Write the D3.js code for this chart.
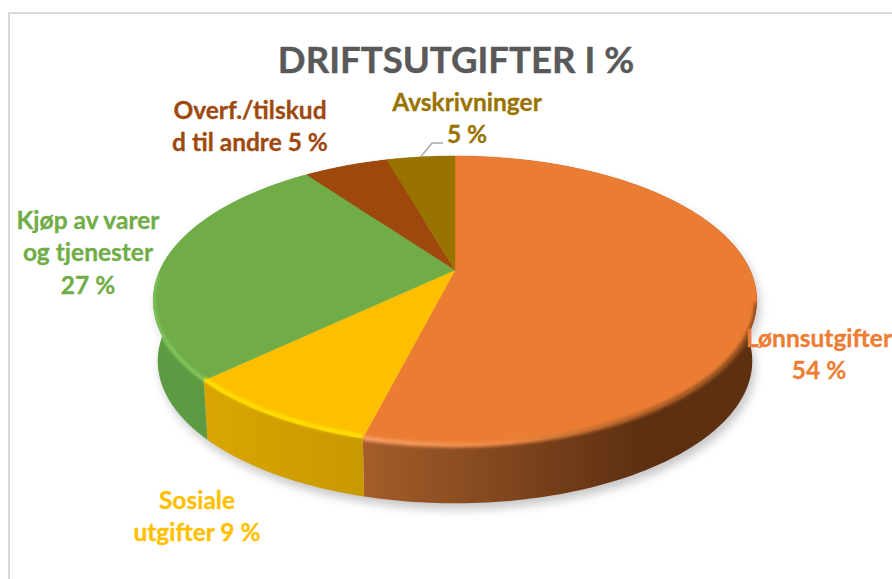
<!DOCTYPE html>
<html>
<head>
<meta charset="utf-8">
<script src="https://cdn.jsdelivr.net/npm/d3@7"></script>
<style>
  html, body { margin: 0; padding: 0; background: #fff; overflow: hidden; }
  svg { display: block; }
  text { font-family: Lato, "Open Sans", sans-serif; font-weight: 700; text-anchor: middle; }
</style>
</head>
<body>
<div id="drawing-area"></div>
<script>
(function () {
  var title = 'DRIFTSUTGIFTER I %';
  var categories = ['Lønnsutgifter', 'Sosiale utgifter', 'Kjøp av varer og tjenester', 'Overf./tilskud d til andre', 'Avskrivninger'];
  var values = [54, 9, 27, 5.5, 4.5];
  var labelLines = [
    ['Lønnsutgifter', '54 %'],
    ['Sosiale', 'utgifter 9 %'],
    ['Kjøp av varer', 'og tjenester', '27 %'],
    ['Overf./tilskud', 'd til andre 5 %'],
    ['Avskrivninger', '5 %']
  ];

  var width = 892, height = 579;

  // where the labels sit, same order as categories
  var labelPos = [[819, 347], [197, 509], [88, 229], [250, 119], [467, 111]];
  var faceColors = ['#eb7c33', '#fdbf00', '#70ad47', '#9e480e', '#997300'];
  var labelColors = ['#ed7d31', '#ffc000', '#70ad47', '#9e480e', '#997300'];
  // side colours left to right across the pie
  var sideStops = [
    ['#a45d2a', '#5e3012'],
    ['#e0aa00', '#c89800'],
    ['#5d9b42', '#5a9a40'],
    ['#6f330a', '#6f330a'],
    ['#6f5300', '#6f5300']
  ];
  // bevel stroke per slice: colours left to right, and the part of the slice edge it covers
  var rimStops = [
    ['#f79d63', '#ef8a45', '#b8652a', '#8a4a1c'],
    ['#ffe600', '#ffe600'],
    ['#80c95e', '#80c95e']
  ];
  var rimSpans = [[1.8, 1], [0, 1], [0, 0.42]];
  var rimShift = [0, -2, -1];

  var svg = d3.select('#drawing-area').append('svg')
    .attr('width', width)
    .attr('height', height);
  var defs = svg.append('defs');

  function addBlur(id, dev) {
    defs.append('filter')
      .attr('id', id)
      .attr('x', '-20%').attr('y', '-20%')
      .attr('width', '140%').attr('height', '140%')
      .append('feGaussianBlur')
      .attr('stdDeviation', dev);
  }
  addBlur('shadowBlur', 5);
  addBlur('rimBlur', 1.5);

  // perspective disc: a circle lying down, near edge bigger than far edge
  var apexX = 455, apexY = 270, radX = 295, radY = 138, persp = 0.211;
  var depth = 61, bottomScale = 0.985;
  var xScale = d3.scaleLinear().domain([0, 1]).range([apexX, apexX + radX]);
  var yScale = d3.scaleLinear().domain([0, 1]).range([apexY, apexY + radY]);

  function project(angle, low) {
    var u = Math.sin(angle), v = -Math.cos(angle);
    var w = 1 - persp * v;
    var s = low ? bottomScale : 1;
    return [xScale(s * u / w), yScale(s * v / w) + (low ? depth : 0)];
  }

  function sampleAngles(a0, a1) {
    var n = Math.max(2, Math.ceil(Math.abs(a1 - a0) / 0.02));
    return d3.range(n + 1).map(function (i) { return a0 + (a1 - a0) * i / n; });
  }

  var line = d3.line();
  var slices = d3.pie().sort(null)(values);

  function facePath(d) {
    var pts = sampleAngles(d.startAngle, d.endAngle).map(function (a) { return project(a, false); });
    return line([[apexX, apexY]].concat(pts)) + 'Z';
  }

  function sidePath(d) {
    var top = sampleAngles(d.startAngle, d.endAngle).map(function (a) { return project(a, false); });
    var low = sampleAngles(d.startAngle, d.endAngle).reverse().map(function (a) { return project(a, true); });
    return line(top.concat(low)) + 'Z';
  }

  // frame of the chart area, only top and left show
  svg.append('path')
    .attr('d', line([[9, height], [9, 13], [width, 13]]))
    .attr('fill', 'none')
    .attr('stroke', '#d9d9d9')
    .attr('stroke-width', 2);

  svg.append('text')
    .attr('x', 456)
    .attr('y', 73)
    .attr('font-size', 36.6)
    .attr('fill', '#595959')
    .attr('stroke', '#595959')
    .attr('stroke-width', 0.4)
    .text(title);

  // soft shadow under the disc
  var whole = { startAngle: 0, endAngle: 2 * Math.PI };
  svg.append('path')
    .attr('d', sidePath(whole))
    .attr('transform', 'translate(3,6)')
    .attr('fill', '#000')
    .attr('fill-opacity', 0.22)
    .attr('filter', 'url(#shadowBlur)');

  // keeps the blurred bevel from leaking past the disc outline
  var discClip = defs.append('clipPath').attr('id', 'discClip');
  discClip.append('path').attr('d', facePath(whole));
  discClip.append('path').attr('d', sidePath(whole));

  slices.forEach(function (d, i) {
    var grad = defs.append('linearGradient')
      .attr('id', 'side' + i)
      .attr('gradientUnits', 'userSpaceOnUse')
      .attr('x1', i === 0 ? 364 : 150).attr('x2', i === 0 ? 640 : 370)
      .attr('y1', 0).attr('y2', 0);
    grad.append('stop').attr('offset', 0).attr('stop-color', sideStops[i][0]);
    grad.append('stop').attr('offset', 1).attr('stop-color', sideStops[i][1]);
  });

  rimStops.forEach(function (stops, i) {
    var grad = defs.append('linearGradient')
      .attr('id', 'rim' + i)
      .attr('gradientUnits', 'userSpaceOnUse')
      .attr('x1', i === 0 ? 364 : 150).attr('x2', i === 0 ? 757 : 370)
      .attr('y1', 0).attr('y2', 0);
    stops.forEach(function (c, j) {
      grad.append('stop').attr('offset', j / (stops.length - 1)).attr('stop-color', c);
    });
  });

  // far slices first, the near side is only what sticks out below the top face
  svg.append('g').selectAll('path')
    .data(slices)
    .join('path')
    .attr('d', sidePath)
    .attr('fill', function (d, i) { return 'url(#side' + i + ')'; });

  svg.append('g').selectAll('path')
    .data(slices)
    .join('path')
    .attr('d', facePath)
    .attr('fill', function (d, i) { return faceColors[i]; })
    .attr('stroke', function (d, i) { return faceColors[i]; })
    .attr('stroke-width', 0.5);

  // bevel along the rim, only on the front part
  svg.append('g')
    .attr('clip-path', 'url(#discClip)')
    .selectAll('path')
    .data(slices.slice(0, 3))
    .join('path')
    .attr('d', function (d, i) {
      var a0 = rimSpans[i][0], a1 = d.endAngle;
      if (i > 0) {
        a0 = d.startAngle;
        a1 = d.startAngle + (d.endAngle - d.startAngle) * rimSpans[i][1];
      }
      return line(sampleAngles(a0, a1).map(function (a) { return project(a, false); }));
    })
    .attr('fill', 'none')
    .attr('stroke', function (d, i) { return 'url(#rim' + i + ')'; })
    .attr('stroke-width', function (d, i) { return i === 0 ? 5 : 3.5; })
    .attr('transform', function (d, i) { return 'translate(0,' + rimShift[i] + ')'; })
    .attr('filter', 'url(#rimBlur)');

  // leader line for Avskrivninger
  var avsk = slices[4];
  var leaderStart = project((avsk.startAngle + avsk.endAngle) / 2, false);
  svg.append('path')
    .attr('d', line([leaderStart, [432, 143], [443, 143]]))
    .attr('fill', 'none')
    .attr('stroke', '#a6a6a6')
    .attr('stroke-width', 1.3);

  var labels = svg.append('g').selectAll('text')
    .data(labelLines)
    .join('text')
    .attr('font-size', 24.5)
    .attr('fill', function (d, i) { return labelColors[i]; })
    .attr('stroke', function (d, i) { return labelColors[i]; })
    .attr('stroke-width', 0.3)
    .attr('data-category', function (d, i) { return categories[i]; });

  labels.each(function (lines, i) {
    d3.select(this).selectAll('tspan')
      .data(lines)
      .join('tspan')
      .attr('x', labelPos[i][0])
      .attr('y', function (d, j) { return labelPos[i][1] + j * 32.3; })
      .text(function (d) { return d; });
  });
})();
</script>
</body>
</html>
